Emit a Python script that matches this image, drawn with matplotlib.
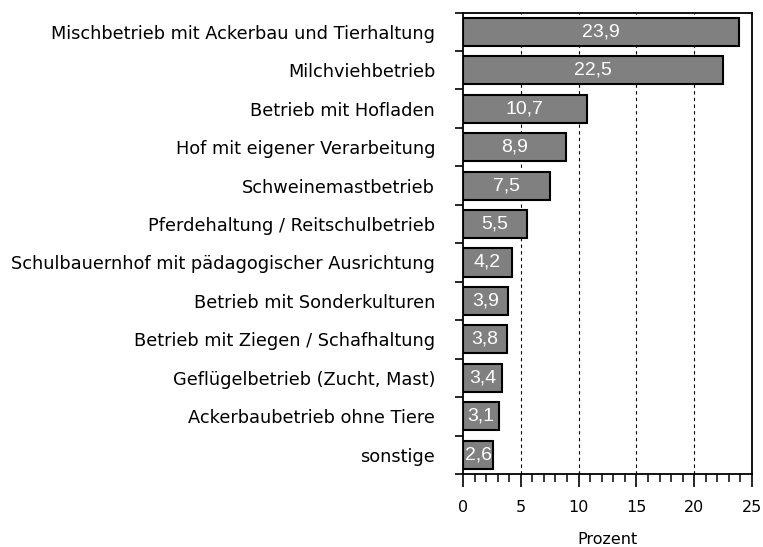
import matplotlib.pyplot as plt
from matplotlib.ticker import MultipleLocator

categories = [
    "Mischbetrieb mit Ackerbau und Tierhaltung",
    "Milchviehbetrieb",
    "Betrieb mit Hofladen",
    "Hof mit eigener Verarbeitung",
    "Schweinemastbetrieb",
    "Pferdehaltung / Reitschulbetrieb",
    "Schulbauernhof mit pädagogischer Ausrichtung",
    "Betrieb mit Sonderkulturen",
    "Betrieb mit Ziegen / Schafhaltung",
    "Geflügelbetrieb (Zucht, Mast)",
    "Ackerbaubetrieb ohne Tiere",
    "sonstige",
]
values = [23.9, 22.5, 10.7, 8.9, 7.5, 5.5, 4.2, 3.9, 3.8, 3.4, 3.1, 2.6]
xticks = [0, 5, 10, 15, 20, 25]

fig = plt.figure(figsize=(7.63, 5.47), dpi=100)
ax = fig.add_axes([463 / 763, 1 - 474 / 547, 289 / 763, 461.5 / 547])

pos = list(range(len(categories)))
bars = ax.barh(pos, values, height=0.73, color="#808080", edgecolor="black",
               linewidth=1.5, zorder=3)
for b, v in zip(bars, values):
    ax.text(b.get_width() / 2, b.get_y() + b.get_height() / 2,
            f"{v:.1f}".replace(".", ","), ha="center", va="center",
            color="white", fontsize=14, family="Liberation Sans", zorder=4)

ax.set_ylim(len(categories) - 0.5, -0.5)
ax.set_xlim(0, 25)

# category labels sit between the boundary ticks
ax.set_yticks([p - 0.5 for p in pos] + [len(categories) - 0.5])
ax.set_yticklabels([])
ax.set_yticks(pos, minor=True)
ax.set_yticklabels(categories, minor=True, fontsize=12.8, family="DejaVu Sans")
ax.tick_params(axis="y", which="major", direction="out", length=6, width=1.2)
ax.tick_params(axis="y", which="minor", length=0, pad=20)

ax.set_xticks(xticks)
ax.xaxis.set_minor_locator(MultipleLocator(1))
ax.tick_params(axis="x", which="major", direction="out", length=9, width=1.2,
               labelsize=11.5, pad=10)
ax.tick_params(axis="x", which="minor", direction="out", length=6, width=1.1)
for lab in ax.get_xticklabels():
    lab.set_family("DejaVu Sans")

for x in xticks[1:-1]:
    ax.axvline(x, color="black", linestyle=(0, (3, 3)), linewidth=0.8, zorder=1)

ax.set_xlabel("Prozent", fontsize=11.5, family="DejaVu Sans", labelpad=12)

for s in ax.spines.values():
    s.set_linewidth(1.3)

fig.savefig("out.png", dpi=100)
